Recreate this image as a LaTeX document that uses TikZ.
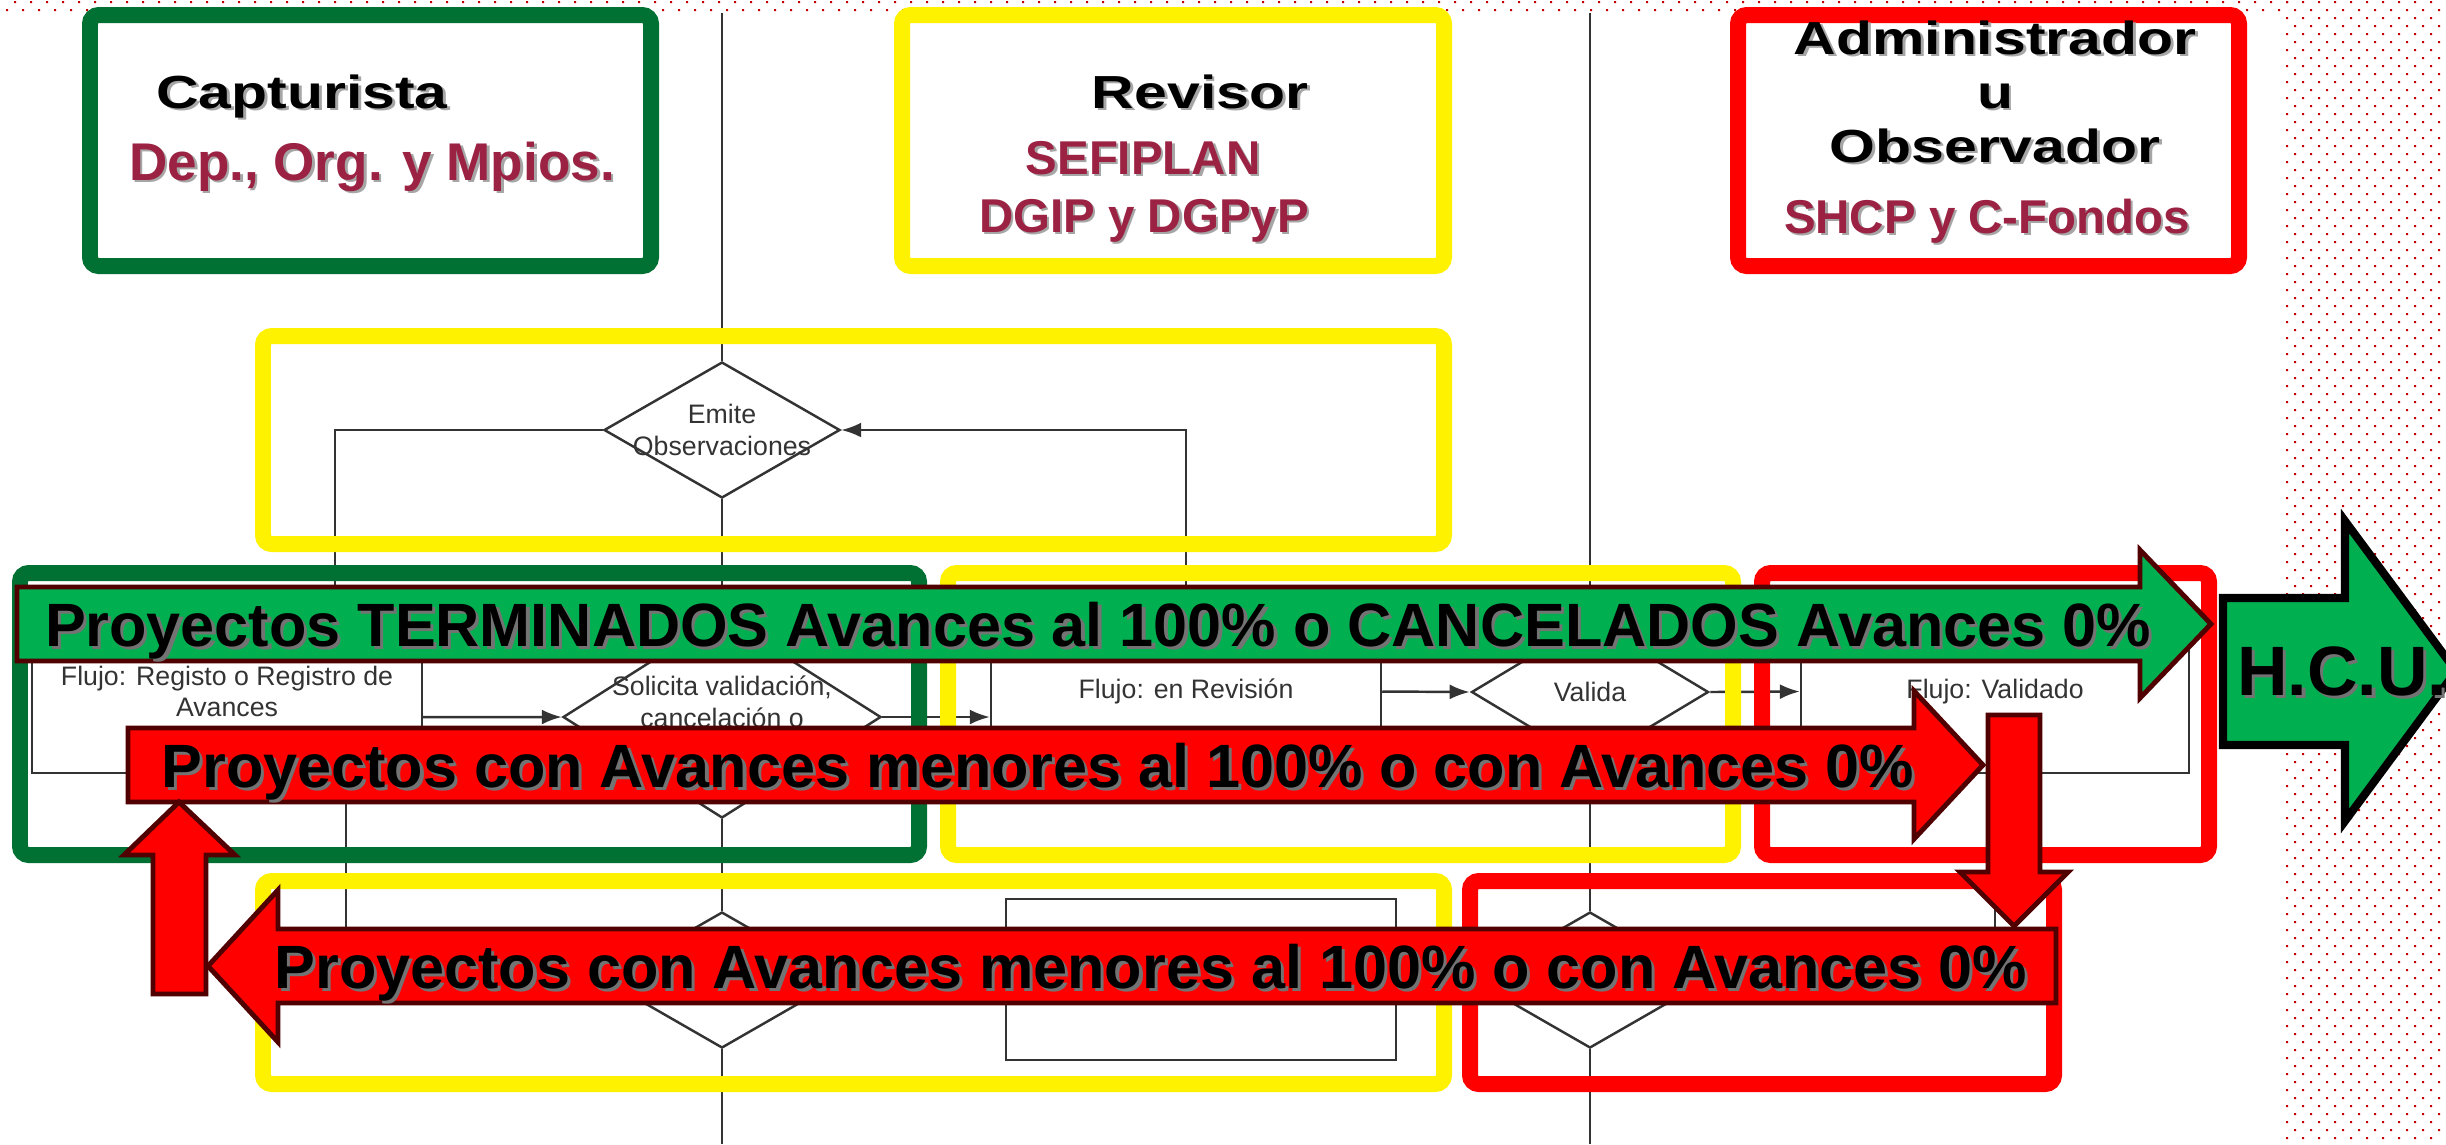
\documentclass[tikz,border=0pt]{standalone}
\usepackage{fontspec}
\setmainfont{Liberation Sans}
\usepackage{graphicx}
\usetikzlibrary{arrows.meta, positioning, shapes.geometric, shapes.symbols}

\definecolor{hdrgreen}{RGB}{0,112,51}
\definecolor{arrgreen}{RGB}{0,176,80}
\definecolor{dotred}{RGB}{192,0,0}
\definecolor{maroon}{RGB}{155,34,66}
\definecolor{edgered}{RGB}{80,0,0}
\definecolor{flowgray}{RGB}{51,51,51}

\newcommand{\shtxt}[2]{\leavevmode\rlap{\hspace{0.05em}\raisebox{-0.05em}{\textcolor{#1}{#2}}}#2}

\begin{document}
\begin{tikzpicture}[x=0.1mm, y=-0.1mm, >=Latex,
    frame/.style={line width=4.55pt, rounded corners=2.5pt},
    flow/.style={draw=flowgray, line width=0.7pt, inner sep=0pt},
    flowbox/.style={flow, rectangle, minimum width=39mm, minimum height=16.3mm},
    flowdiam/.style={flow, diamond, minimum width=23.6mm, minimum height=13.6mm},
    flowtext/.style={text=flowgray, font=\fontsize{7.6}{9}\selectfont, align=center},
    link/.style={flowgray, line width=0.7pt},
    tip/.style={-{Latex[length=2mm, width=1.5mm]}},
    bigarrow/.style={draw=edgered, line width=1.4pt, line join=miter},
    arrtext/.style={font=\fontsize{17.4}{20}\selectfont\bfseries, anchor=base, inner sep=0pt},
    role/.style={font=\fontsize{13.2}{15}\selectfont\bfseries, anchor=base, inner sep=0pt},
    entity/.style={text=maroon, font=\fontsize{13.5}{16}\selectfont\bfseries, anchor=base, inner sep=0pt}]

  \useasboundingbox (0,0) rectangle (2446,1144);

  % dotted background
  \fill[dotred] \foreach \c in {0,...,142} {({14+16*\c},1) rectangle ++(2,2) ({6+16*\c},9) rectangle ++(2,2)};
  \fill[dotred] \foreach \r in {0,...,142} {\foreach \c in {0,...,9} {({2286+8*mod(\r,2)+16*\c},{1+8*\r}) rectangle ++(2,2)}};

  % flow chart behind
  \coordinate (lanetop1) at (722,13);
  \coordinate (lanebot1) at (722,1144);
  \coordinate (lanetop2) at (1590,13);
  \coordinate (lanebot2) at (1590,1144);

  \node[flowdiam, label={[flowtext]center:Emite\\Observaciones}] (emite) at (722,430) {};
  \node[flowbox, label={[flowtext]center:Flujo: Registo o Registro de\\Avances}] (registro) at (227,691.5) {};
  \node[flowdiam, minimum width=31.8mm, minimum height=20.2mm] (solicita) at (722,717) {};
  \node[flowtext, anchor=center] (solicitatxt) at (722,702) {Solicita validación,\\cancelación o};
  \node[flowbox, label={[flowtext]center:Flujo: en Revisión}] (revision) at (1186,691.5) {};
  \node[flow, signal, signal to=east and west, signal pointer angle=62, minimum width=23.6mm, minimum height=12mm, label={[flowtext]center:Valida}] (valida) at (1590,692) {};
  \node[flowbox, minimum width=38.8mm, label={[flowtext]center:Flujo: Validado}] (validado) at (1995,691.5) {};
  \node[flowdiam] (bdiamA) at (722,980) {};
  \node[flowbox, minimum height=16.1mm] (bbox) at (1201,979.5) {};
  \node[flowdiam] (bdiamB) at (1590,980) {};

  \draw[link] (lanetop1) -- (emite.north);
  \draw[link] (emite.south) -- (solicita.north);
  \draw[link] (solicita.south) -- (bdiamA.north);
  \draw[link] (bdiamA.south) -- (lanebot1);
  \draw[link] (lanetop2) -- (valida.north);
  \draw[link] (valida.south) -- (bdiamB.north);
  \draw[link] (bdiamB.south) -- (lanebot2);
  \draw[link] (emite.west) -| ([xshift=10.8mm]registro.north);
  \draw[link, tip] (revision.north) |- (emite.east);
  \draw[link, tip] ([yshift=-2.55mm]registro.east) -- (solicita.west);
  \draw[link, tip] (solicita.east) -- (solicita.east -| revision.west);
  \draw[link, tip] (revision.east) -- (valida.west);
  \draw[link, tip] (valida.east) -- (validado.west);
  \draw[link] ([xshift=11.9mm]registro.south) |- (bdiamA.west);
  \draw[link] (bdiamA.east) -- (bbox.west);
  \draw[link] (bbox.east) -- (bdiamB.west);
  \draw[link] (validado.south) |- (bdiamB.east);

  % header boxes
  \draw[frame, hdrgreen] (90,15) rectangle (651,266);
  \draw[frame, yellow] (902,15) rectangle (1444,266);
  \draw[frame, red] (1738,15) rectangle (2239,266);

  \node[role] (capturista) at (302,108) {\scalebox{1.27}[1]{\shtxt{gray!70}{Capturista}}};
  \node[entity, font=\fontsize{15.1}{18}\selectfont\bfseries] (depend) at (372,180) {\shtxt{gray!70}{Dep., Org. y Mpios.}};
  \node[role] (revisor) at (1200,108) {\scalebox{1.27}[1]{\shtxt{gray!70}{Revisor}}};
  \node[entity] (sefiplan) at (1143,174) {\shtxt{gray!70}{SEFIPLAN}};
  \node[entity] (dgip) at (1144,232) {\shtxt{gray!70}{DGIP y DGPyP}};
  \node[role] (admin) at (1995,54) {\scalebox{1.27}[1]{\shtxt{gray!70}{Administrador}}};
  \node[role] (uconj) at (1995,108) {\scalebox{1.27}[1]{\shtxt{gray!70}{u}}};
  \node[role] (observ) at (1995,162) {\scalebox{1.27}[1]{\shtxt{gray!70}{Observador}}};
  \node[entity] (shcp) at (1987,233) {\shtxt{gray!70}{SHCP y C-Fondos}};

  % stage frames
  \draw[frame, yellow] (263,336) rectangle (1444,544);
  \draw[frame, hdrgreen] (20,573) rectangle (919,855);
  \draw[frame, yellow] (948,573) rectangle (1733,855);
  \draw[frame, red] (1762,573) rectangle (2209,855);
  \draw[frame, yellow] (263,881) rectangle (1444,1084);
  \draw[frame, red] (1470,881) rectangle (2054,1084);

  % big arrows
  \draw[bigarrow, fill=arrgreen] (17,587) -- (2140,587) -- (2140,550) -- (2211,624) -- (2140,698) -- (2140,661) -- (17,661) -- cycle;
  \draw[bigarrow, fill=red] (128,728) -- (1914,728) -- (1914,691) -- (1983,765) -- (1914,839) -- (1914,802) -- (128,802) -- cycle;
  \draw[bigarrow, fill=red] (1988,715) -- (2040,715) -- (2040,872) -- (2068,872) -- (2014,926) -- (1960,872) -- (1988,872) -- cycle;
  \draw[bigarrow, fill=red] (2056,929) -- (278,929) -- (278,890) -- (208,966) -- (278,1042) -- (278,1003) -- (2056,1003) -- cycle;
  \draw[bigarrow, fill=red] (153,994) -- (153,855) -- (124,855) -- (179,802) -- (235,855) -- (206,855) -- (206,994) -- cycle;
  \draw[line width=2.3pt, line join=miter, fill=arrgreen] (2223,598) -- (2345,598) -- (2345,521) -- (2456,671) -- (2345,821) -- (2345,745) -- (2223,745) -- cycle;

  \node[arrtext] (terminados) at (1098,646) {\shtxt{black!55}{Proyectos TERMINADOS Avances al 100\% o CANCELADOS Avances 0\%}};
  \node[arrtext] (menoresA) at (1038,787) {\shtxt{black!55}{Proyectos con Avances menores al 100\% o con Avances 0\%}};
  \node[arrtext] (menoresB) at (1151,988) {\shtxt{black!55}{Proyectos con Avances menores al 100\% o con Avances 0\%}};
  \node[arrtext, font=\fontsize{19.9}{22}\selectfont\bfseries] (hcu) at (2342,695) {\shtxt{black!55}{H.C.U.}};

\end{tikzpicture}
\end{document}
